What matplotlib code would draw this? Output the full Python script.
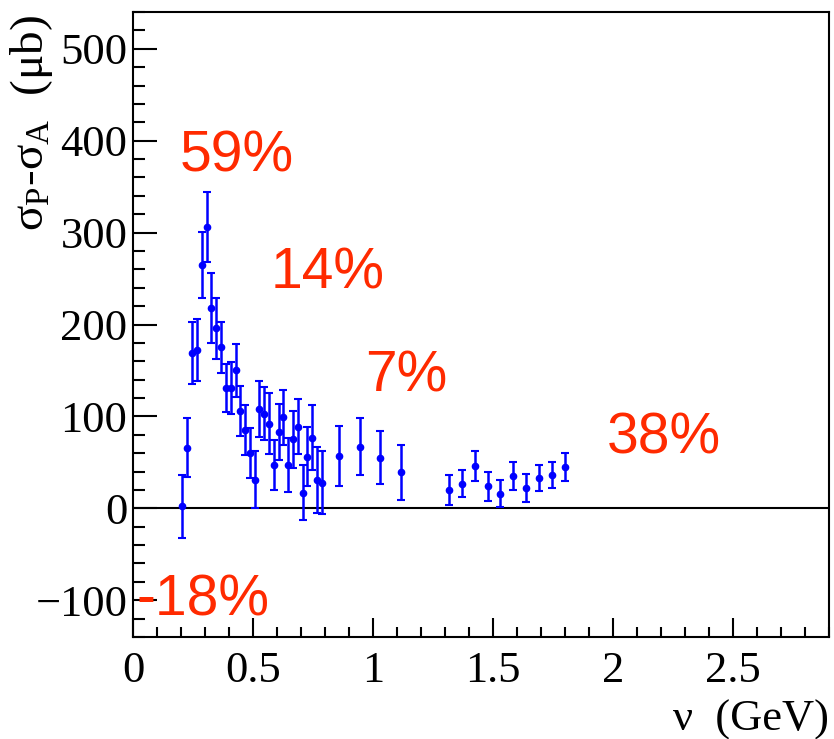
import matplotlib
matplotlib.use("Agg")
import matplotlib.pyplot as plt
from matplotlib.ticker import MultipleLocator

plt.rcParams['font.family'] = ['Liberation Serif', 'DejaVu Serif']
plt.rcParams['mathtext.fontset'] = 'custom'
plt.rcParams['mathtext.rm'] = 'Liberation Serif'
plt.rcParams['mathtext.it'] = 'Liberation Serif:italic'

# Data
nu = [0.205, 0.226, 0.246, 0.267, 0.286, 0.307, 0.326, 0.347, 0.367, 0.387,
      0.407, 0.428, 0.447, 0.467, 0.487, 0.507, 0.526, 0.546, 0.565, 0.586,
      0.607, 0.626, 0.647, 0.667, 0.686, 0.707, 0.726, 0.746, 0.767, 0.786,
      0.858, 0.946, 1.029, 1.117,
      1.315, 1.370, 1.424, 1.478, 1.530, 1.585, 1.639, 1.693, 1.747, 1.800]
dsigma = [2, 66, 169, 172, 265, 306, 218, 196, 175, 131,
          131, 150, 106, 85, 60, 31, 108, 103, 92, 47,
          83, 99, 47, 75, 89, 17, 56, 77, 31, 28,
          57, 67, 55, 39,
          20, 27, 46, 24, 16, 35, 22, 33, 36, 45]
err = [34, 32, 34, 34, 36, 38, 38, 33, 28, 26,
       28, 29, 27, 27, 27, 31, 30, 29, 33, 27,
       30, 30, 29, 31, 30, 30, 32, 35, 36, 34,
       33, 31, 29, 30,
       16, 15, 16, 16, 15, 15, 15, 14, 14, 15]

labels = ["59%", "14%", "7%", "38%", "-18%"]
label_x = [0.433, 0.81, 1.14, 2.21, 0.29]
label_y = [383, 255, 143, 76, -100]

fig = plt.figure(figsize=(8.34, 7.39), dpi=100)
ax = fig.add_axes([133/834, 1 - 637/739, (829-133)/834, (637-12)/739])

ax.axhline(0, color='black', lw=1.5, zorder=1)
ax.errorbar(nu, dsigma, yerr=err, fmt='o', color='#0000ff', ms=4.5,
            elinewidth=1.8, capsize=3, capthick=1.5, zorder=3)

for t, x, y in zip(labels, label_x, label_y):
    ax.text(x, y, t, color='#ff2a00', fontsize=41, ha='center', va='center',
            family=['Liberation Sans', 'DejaVu Sans'], zorder=4)

ax.set_xlim(0, 2.9)
ax.set_ylim(-140, 540)
ax.xaxis.set_minor_locator(MultipleLocator(0.1))
ax.yaxis.set_minor_locator(MultipleLocator(20))
ax.set_xticks([0, 0.5, 1, 1.5, 2, 2.5])
ax.set_xticklabels(['0', '0.5', '1', '1.5', '2', '2.5'])
ax.set_yticks([-100, 0, 100, 200, 300, 400, 500])
ax.set_yticklabels(['\u2212100', '0', '100', '200', '300', '400', '500'])

ax.tick_params(axis='x', which='major', direction='in', length=14, width=1.5,
               labelsize=32, pad=10, top=False)
ax.tick_params(axis='x', which='minor', direction='in', length=7, width=1.5, top=False)
ax.tick_params(axis='y', which='major', direction='in', length=17, width=1.5,
               labelsize=32, pad=4, right=False)
ax.tick_params(axis='y', which='minor', direction='in', length=8.5, width=1.5, right=False)

for s in ax.spines.values():
    s.set_linewidth(1.5)

ax.set_ylabel('\u03c3$_{\\mathrm{P}}$-\u03c3$_{\\mathrm{A}}$  (\u03bcb)', fontsize=34, loc='top')
ax.yaxis.set_label_coords(-0.112, 0.995)
ax.set_xlabel('\u03bd  (GeV)', fontsize=32, loc='right')
ax.xaxis.set_label_coords(1.0, -0.1)

fig.savefig('out.png', dpi=100)
